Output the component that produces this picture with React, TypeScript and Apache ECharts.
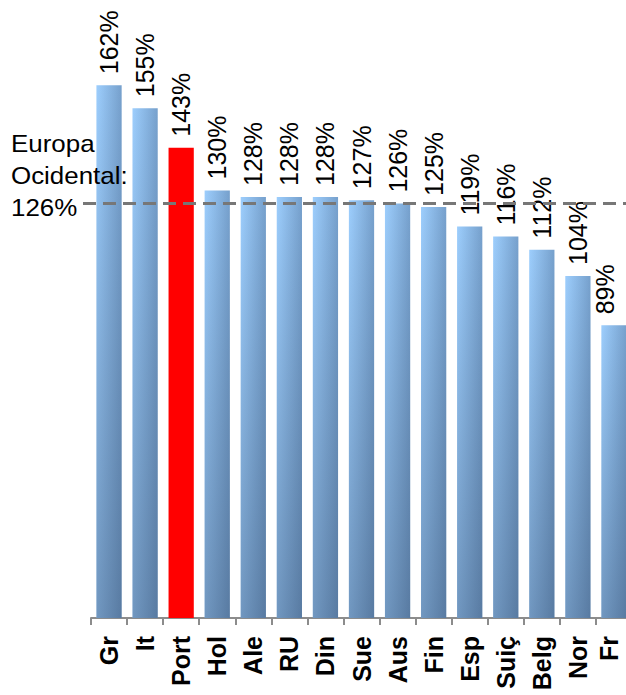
import React, { useEffect, useRef } from 'react';
import * as echarts from 'echarts';

const categories = ['Gr', 'It', 'Port', 'Hol', 'Ale', 'RU', 'Din', 'Sue', 'Aus', 'Fin', 'Esp', 'Suiç', 'Belg', 'Nor', 'Fr'];
const values = [162, 155, 143, 130, 128, 128, 128, 127, 126, 125, 119, 116, 112, 104, 89];
const highlightCategory = 'Port';
const referenceValue = 126;
const referenceLines = ['Europa', 'Ocidental:', '126%'];

const FONT = '"Liberation Sans", Arial, Helvetica, sans-serif';

export default function App() {
  const ref = useRef<HTMLDivElement>(null);

  useEffect(() => {
    if (!ref.current) return;
    const chart = echarts.init(ref.current, undefined, { renderer: 'svg' });

    const baseGradient = new echarts.graphic.LinearGradient(0, 0, 1, 0, [
      { offset: 0, color: '#9dcefd' },
      { offset: 1, color: '#76a0cc' },
    ]);
    const shadeGradient = new echarts.graphic.LinearGradient(0, 0, 0, 1, [
      { offset: 0, color: 'rgba(35,55,85,0)' },
      { offset: 1, color: 'rgba(35,55,85,0.36)' },
    ]);

    const lastIndex = categories.length - 1;

    const baseData = values.map((v, i) => ({
      value: v,
      itemStyle: { color: categories[i] === highlightCategory ? '#ff0000' : baseGradient },
    }));
    const shadeData = values.map((v, i) => ({
      value: v,
      itemStyle: { color: categories[i] === highlightCategory ? 'rgba(0,0,0,0)' : shadeGradient },
      label: i === lastIndex ? { offset: [0, -9] } : undefined,
    }));

    chart.setOption({
      animation: false,
      grid: { left: 91, right: 0, top: 26, bottom: 77, containLabel: false },
      xAxis: {
        type: 'category',
        data: categories,
        boundaryGap: true,
        axisLine: { show: true, lineStyle: { color: '#8c8c8c', width: 2 } },
        axisTick: { show: true, interval: 0, length: 7, lineStyle: { color: '#8c8c8c', width: 2 } },
        axisLabel: {
          interval: 0,
          rotate: 90,
          margin: 18,
          fontSize: 25,
          fontWeight: 'bold',
          color: '#000',
          fontFamily: FONT,
          formatter: (v: string, i: number) => (i === lastIndex ? `{edge|${v}}` : v),
          rich: {
            edge: {
              fontSize: 25,
              fontWeight: 'bold',
              color: '#000',
              fontFamily: FONT,
              padding: [0, 0, 10, 0],
            },
          },
        },
      },
      yAxis: {
        type: 'value',
        min: 0,
        max: 180,
        show: false,
        splitLine: { show: false },
      },
      series: [
        {
          type: 'bar',
          data: baseData,
          barWidth: '70%',
          z: 2,
        },
        {
          type: 'bar',
          data: shadeData,
          barWidth: '70%',
          barGap: '-100%',
          z: 3,
          silent: true,
          label: {
            show: true,
            position: 'top',
            rotate: 90,
            align: 'left',
            verticalAlign: 'middle',
            distance: 11,
            fontSize: 25,
            color: '#000',
            fontFamily: FONT,
            formatter: '{c}%',
          },
        },
      ],
    });

    const yRef = chart.convertToPixel({ yAxisIndex: 0 }, referenceValue) as number;

    chart.setOption({
      graphic: [
        {
          type: 'line',
          z: 100,
          shape: { x1: 83, y1: yRef, x2: 626, y2: yRef },
          style: { stroke: '#777777', lineWidth: 3, lineDash: [13, 7] },
        },
        {
          type: 'text',
          z: 100,
          x: 11,
          y: yRef - 76,
          scaleX: 1.08,
          style: {
            text: referenceLines.join('\n'),
            fontSize: 24,
            lineHeight: 32,
            fill: '#000',
            fontFamily: FONT,
          },
        },
      ],
    });

    return () => chart.dispose();
  }, []);

  return (
    <div style={{ position: 'absolute', left: 0, top: 0, width: 626, height: 695, overflow: 'hidden' }}>
      <div ref={ref} style={{ width: 632, height: 695 }} />
    </div>
  );
}
